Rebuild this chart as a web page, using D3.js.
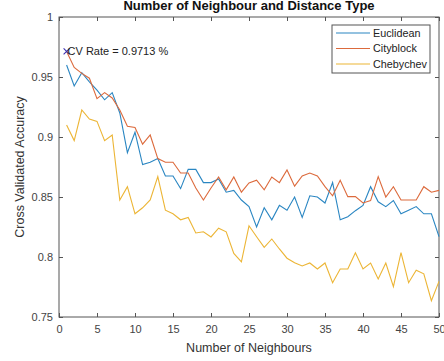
<!DOCTYPE html>
<html><head><meta charset="utf-8">
<script src="https://cdn.jsdelivr.net/npm/d3@7"></script>
<style>body{margin:0;background:#fff}svg{display:block}text{font-family:"Liberation Sans",Arial,sans-serif}</style>
</head><body><svg id="c" width="444" height="361"></svg>
<script>
const neighbours = d3.range(1, 51);
const euclidean = [0.960,0.9425,0.9536,0.946,0.939,0.931,0.937,0.920,0.887,0.904,
0.877,0.879,0.882,0.8675,0.8675,0.857,0.873,0.873,0.862,0.862,
0.865,0.854,0.8555,0.8475,0.842,0.825,0.841,0.831,0.843,0.839,
0.850,0.833,0.851,0.850,0.845,0.862,0.831,0.8336,0.8386,0.843,
0.8586,0.846,0.842,0.847,0.836,0.839,0.842,0.836,0.836,0.817];
const cityblock = [0.9713,0.958,0.953,0.949,0.932,0.937,0.9325,0.9225,0.909,0.908,
0.894,0.9017,0.882,0.879,0.879,0.870,0.870,0.8575,0.8475,0.8575,
0.8667,0.856,0.8667,0.854,0.8617,0.864,0.856,0.8667,0.862,0.8725,
0.859,0.8675,0.870,0.8675,0.8586,0.851,0.864,0.8503,0.8503,0.845,
0.847,0.867,0.850,0.8586,0.8475,0.8475,0.8475,0.8586,0.854,0.8555];
const chebychev = [0.910,0.897,0.9225,0.915,0.913,0.897,0.9017,0.8475,0.8586,0.836,
0.841,0.8475,0.867,0.839,0.836,0.831,0.833,0.820,0.821,0.8167,
0.824,0.821,0.803,0.796,0.826,0.8169,0.808,0.815,0.8067,0.799,
0.7953,0.7925,0.795,0.790,0.795,0.7786,0.790,0.790,0.8036,0.790,
0.795,0.7817,0.795,0.7753,0.8036,0.7786,0.789,0.786,0.7636,0.7797];
const seriesNames = ["Euclidean","Cityblock","Chebychev"];
const colors = ["#2a86c2","#dc6a3c","#ecb535"];
const xTicks = [0,5,10,15,20,25,30,35,40,45,50];
const yTicks = [0.75,0.8,0.85,0.9,0.95,1];
const cvRate = {k:1, v:0.9713, label:"CV Rate = 0.9713 %"};

const svg = d3.select("#c");
const L=59,R=439,T=17,B=317;
const x = d3.scaleLinear().domain([0,50]).range([L,R]);
const y = d3.scaleLinear().domain([0.75,1]).range([B,T]);
const axisCol="#555";

const g = svg.append("g");
g.append("rect").attr("x",L).attr("y",T).attr("width",R-L).attr("height",B-T)
 .attr("fill","none").attr("stroke",axisCol).attr("stroke-width",1);

function styleAxis(sel){
  sel.select(".domain").remove();
  sel.selectAll(".tick line").attr("stroke",axisCol);
  sel.selectAll(".tick text").attr("fill","#444").style("font-size","11px");
}
g.append("g").attr("transform",`translate(0,${B})`)
 .call(d3.axisBottom(x).tickValues(xTicks).tickSize(-4).tickPadding(8).tickFormat(d3.format("d"))).call(styleAxis);
g.append("g").attr("transform",`translate(0,${T})`)
 .call(d3.axisTop(x).tickValues(xTicks).tickSize(-4).tickFormat("")).call(styleAxis);
g.append("g").attr("transform",`translate(${L},0)`)
 .call(d3.axisLeft(y).tickValues(yTicks).tickSize(-4).tickPadding(6).tickFormat(d=>String(d))).call(styleAxis);
g.append("g").attr("transform",`translate(${R},0)`)
 .call(d3.axisRight(y).tickValues(yTicks).tickSize(-4).tickFormat("")).call(styleAxis);

const line = d3.line().x((d,i)=>x(neighbours[i])).y(d=>y(d));
[euclidean,cityblock,chebychev].forEach((s,i)=>{
  g.append("path").datum(s).attr("d",line).attr("fill","none")
   .attr("stroke",colors[i]).attr("stroke-width",1.1);
});

const mx=x(cvRate.k), my=y(cvRate.v);
g.append("path").attr("d",`M${mx-3},${my-3}L${mx+3},${my+3}M${mx-3},${my+3}L${mx+3},${my-3}`)
 .attr("stroke","#3a2fb0").attr("stroke-width",1.1);
g.append("text").attr("x",mx+1).attr("y",my+4).text(cvRate.label)
 .style("font-size","11px").attr("fill","#222");

svg.append("text").attr("x",(L+R)/2).attr("y",10).attr("text-anchor","middle")
 .style("font-size","13px").style("font-weight","bold").attr("fill","#111").text("Number of Neighbour and Distance Type");
svg.append("text").attr("x",(L+R)/2).attr("y",352).attr("text-anchor","middle")
 .style("font-size","12.5px").attr("fill","#333").text("Number of Neighbours");
svg.append("text").attr("transform",`translate(24,${(T+B)/2}) rotate(-90)`).attr("text-anchor","middle")
 .style("font-size","12.5px").attr("fill","#333").text("Cross Validated Accuracy");

const lg = svg.append("g");
lg.append("rect").attr("x",332).attr("y",25).attr("width",98).attr("height",48)
 .attr("fill","#fff").attr("stroke",axisCol);
seriesNames.forEach((n,i)=>{
  const yy = 33 + i*15.5;
  lg.append("line").attr("x1",336).attr("x2",370).attr("y1",yy).attr("y2",yy)
    .attr("stroke",colors[i]).attr("stroke-width",1.1);
  lg.append("text").attr("x",373).attr("y",yy+3.5).text(n).style("font-size","10.8px").attr("fill","#222");
});
</script></body></html>
